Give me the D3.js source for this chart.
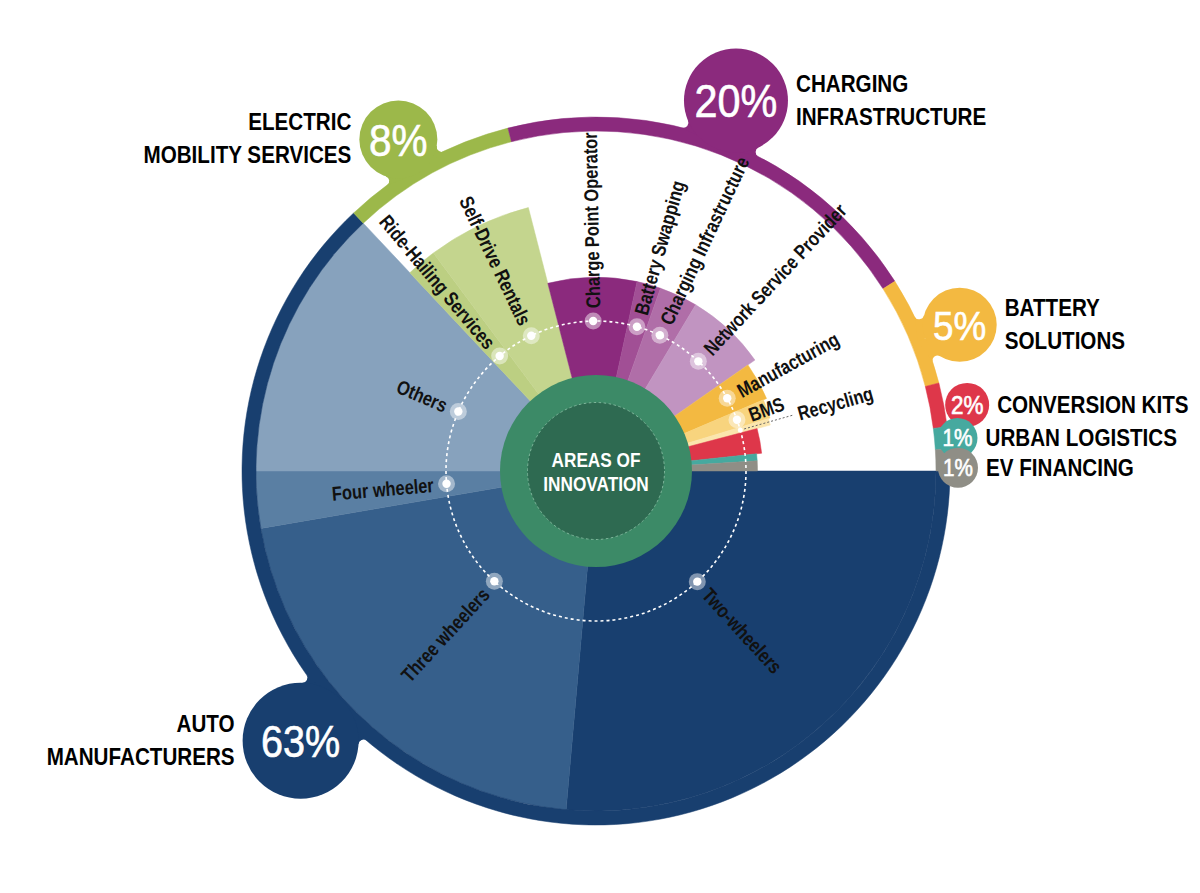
<!DOCTYPE html>
<html>
<head>
<meta charset="utf-8">
<script src="https://cdn.jsdelivr.net/npm/d3@7"></script>
<style>
  html, body { margin: 0; padding: 0; background: #fff; }
  svg { display: block; font-family: "Liberation Sans", Arial, sans-serif; }
</style>
</head>
<body>
<svg id="chart" width="1200" height="893"></svg>
<script>
// ---- outer ring: share of startups per area (%)
var groupNames = ["Auto Manufacturers", "Electric Mobility Services", "Charging Infrastructure",
	"Battery Solutions", "Conversion Kits", "Urban Logistics", "EV Financing"];
var groupLines = [["AUTO", "MANUFACTURERS"], ["ELECTRIC", "MOBILITY SERVICES"], ["CHARGING", "INFRASTRUCTURE"],
	["BATTERY", "SOLUTIONS"], ["CONVERSION KITS"], ["URBAN LOGISTICS"], ["EV FINANCING"]];
var groupShares = [63, 8, 20, 5, 2, 1, 1];

// ---- inner wedges: sub-areas (share of whole, %) and how far they reach (0-100)
var segmentNames = ["Two-wheelers", "Three wheelers", "Four wheeler", "Others",
	"Ride-Hailing Services", "Self-Drive Rentals",
	"Charge Point Operator", "Battery Swapping", "Charging Infrastructure", "Network Service Provider",
	"Manufacturing", "BMS", "Recycling",
	"Conversion Kits", "Urban Logistics", "EV Financing"];
var segmentGroup = [0, 0, 0, 0, 1, 1, 2, 2, 2, 2, 3, 3, 3, 4, 5, 6];
var segmentShares = [26.4, 20.9, 2.7, 13.0, 1.8, 6.2, 7.4, 2.0, 3.2, 6.7, 3.3, 1.7, 0.6, 2.4, 0.7, 1.0];
var segmentReach = [100, 100, 100, 100, 80, 80, 57, 57, 57, 57, 54.5, 53.5, 53, 49, 47.5, 47.5];
var unlabelled = ["Conversion Kits", "Urban Logistics", "EV Financing"];

// ---- styling
var groupColors = ["#183f6f", "#9cb84a", "#8b2a7d", "#f3b941", "#de374a", "#46a99f", "#8f8e86"];
var segmentColors = ["#183f6f", "#365f8b", "#5a7fa3", "#87a2bd",
	"#bccf82", "#c4d58e",
	"#8b2a7d", "#a14f95", "#b06ea8", "#c194c1",
	"#f3b941", "#f8d47e", "#fbe5ad",
	"#de374a", "#46a99f", "#8f8e86"];
var badgeLayout = [
	{ r: 58, dist: 400, turn: 24.2, font: 44 },
	{ r: 39, dist: 386, turn: -2.0, font: 45 },
	{ r: 52, dist: 396, turn: -0.9, font: 46 },
	{ r: 37, dist: 392, turn: 1.5, font: 41 },
	{ r: 22, dist: 377, turn: 0.7, font: 25 },
	{ r: 20, dist: 363, turn: 0.2, font: 23 },
	{ r: 20, dist: 362, turn: 1.3, font: 23 }
];

var cx = 596, cy = 471,
	ringInner = 340,
	ringOuter = 354,
	dotRadius = 150,
	hubRadius = 96,
	hubInner = 68.5,
	labelStart = 163,
	fillet = 5,
	narrow = 0.82;   // condensed look from a regular face

var svg = d3.select("#chart");
var g = svg.append("g").attr("transform", "translate(" + cx + "," + cy + ")");

var reach = d3.scaleLinear().domain([0, 100]).range([0, ringInner]);

var pie = d3.pie()
	.sort(null)
	.startAngle(Math.PI / 2)
	.endAngle(Math.PI / 2 + 2 * Math.PI)
	.value(function(d) { return d.share; });

var segments = segmentNames.map(function(name, i) {
	return { name: name, share: segmentShares[i], reach: segmentReach[i], color: segmentColors[i], group: segmentGroup[i] };
});
var groups = groupNames.map(function(name, i) {
	return { name: name, share: groupShares[i], color: groupColors[i], lines: groupLines[i], layout: badgeLayout[i] };
});

var segArcs = pie(segments);
var groupArcs = pie(groups);

var wedge = d3.arc()
	.innerRadius(0)
	.outerRadius(function(d) { return reach(d.data.reach); });

g.selectAll(".wedge")
	.data(segArcs)
	.enter().append("path")
	.attr("class", "wedge")
	.attr("fill", function(d) { return d.data.color; })
	.attr("stroke", function(d) { return d.data.color; })
	.attr("stroke-width", 0.5)
	.attr("d", wedge);

var ring = d3.arc().innerRadius(ringInner).outerRadius(ringOuter);

g.selectAll(".ring")
	.data(groupArcs)
	.enter().append("path")
	.attr("class", "ring")
	.attr("fill", function(d) { return d.data.color; })
	.attr("stroke", function(d) { return d.data.color; })
	.attr("stroke-width", 0.5)
	.attr("d", ring);

// dashed guide circle through the label dots
g.append("circle")
	.attr("r", dotRadius)
	.attr("fill", "none")
	.attr("stroke", "#fff")
	.attr("stroke-width", 1.6)
	.attr("stroke-dasharray", "3,3");

function mid(d) { return (d.startAngle + d.endAngle) / 2; }
function polar(a, r) { return [Math.sin(a) * r, -Math.cos(a) * r]; }
function flatText(x, y, sx) {
	return g.append("text").attr("transform", "translate(" + x + "," + y + ") scale(" + sx + ",1)");
}

var labelled = segArcs.filter(function(d) { return unlabelled.indexOf(d.data.name) < 0; });

labelled.forEach(function(d) {
	var a = mid(d),
		deg = a * 180 / Math.PI,
		p = polar(a, dotRadius),
		leader = d.data.name === "Recycling",
		start = leader ? 210 : labelStart;

	if (leader) {
		var p1 = polar(a, dotRadius + 4), p2 = polar(a, start - 4);
		g.append("line")
			.attr("x1", p1[0]).attr("y1", p1[1])
			.attr("x2", p2[0]).attr("y2", p2[1])
			.attr("stroke", "#666")
			.attr("stroke-width", 1)
			.attr("stroke-dasharray", "2,2");
		g.append("circle").attr("cx", p[0]).attr("cy", p[1]).attr("r", 2.5).attr("fill", "#fff");
	} else {
		g.append("circle").attr("cx", p[0]).attr("cy", p[1]).attr("r", 8.5)
			.attr("fill", "#fff").attr("fill-opacity", 0.45);
		g.append("circle").attr("cx", p[0]).attr("cy", p[1]).attr("r", 4.2).attr("fill", "#fff");
	}

	var rightSide = Math.sin(a) >= -0.05;
	g.append("text")
		.attr("transform", rightSide
			? "rotate(" + (deg - 90) + ") translate(" + start + ",0) scale(" + narrow + ",1)"
			: "rotate(" + (deg + 90) + ") translate(" + (-start) + ",0) scale(" + narrow + ",1)")
		.attr("text-anchor", rightSide ? "start" : "end")
		.attr("dy", "0.36em")
		.attr("font-size", 20)
		.attr("font-weight", "bold")
		.attr("fill", "#111")
		.text(d.data.name);
});

// hub
g.append("circle").attr("r", hubRadius).attr("fill", "#3c8a67");
g.append("circle").attr("r", hubInner).attr("fill", "#2e6a51")
	.attr("stroke", "#7fb69b").attr("stroke-width", 1).attr("stroke-dasharray", "2.5,2.5");
flatText(0, -4, narrow).attr("text-anchor", "middle")
	.attr("font-size", 21).attr("font-weight", "bold").attr("fill", "#fff").text("AREAS OF");
flatText(0, 20, narrow).attr("text-anchor", "middle")
	.attr("font-size", 21).attr("font-weight", "bold").attr("fill", "#fff").text("INNOVATION");

// concave necks joining a badge to the ring
function necks(b, R, color) {
	var D = Math.hypot(b[0], b[1]),
		r1 = ringOuter + fillet,
		r2 = R + fillet,
		x = (r1 * r1 - r2 * r2 + D * D) / (2 * D),
		h2 = r1 * r1 - x * x;
	if (h2 <= 0) return;
	var h = Math.sqrt(h2),
		ux = b[0] / D, uy = b[1] / D,
		ring0 = [ux * (ringOuter - 7), uy * (ringOuter - 7)];
	[-1, 1].forEach(function(s) {
		var c = [ux * x - s * uy * h, uy * x + s * ux * h],
			cl = Math.hypot(c[0], c[1]),
			t1 = [c[0] * ringOuter / cl, c[1] * ringOuter / cl],
			t2 = [b[0] + (c[0] - b[0]) * R / r2, b[1] + (c[1] - b[1]) * R / r2],
			a1 = Math.atan2(t1[1] - c[1], t1[0] - c[0]),
			a2 = Math.atan2(t2[1] - c[1], t2[0] - c[0]),
			da = a2 - a1;
		while (da > Math.PI) da -= 2 * Math.PI;
		while (da < -Math.PI) da += 2 * Math.PI;
		var path = d3.path();
		path.moveTo(t1[0], t1[1]);
		path.arc(c[0], c[1], fillet, a1, a2, da < 0);
		path.lineTo(b[0], b[1]);
		path.lineTo(ring0[0], ring0[1]);
		path.closePath();
		g.append("path").attr("d", path.toString()).attr("fill", color);
	});
}

// badges with percentages and area names
groupArcs.forEach(function(d) {
	var L = d.data.layout,
		a = mid(d) + L.turn * Math.PI / 180,
		p = polar(a, L.dist);

	if (L.r >= 30) necks(p, L.r, d.data.color);
	g.append("circle").attr("cx", p[0]).attr("cy", p[1]).attr("r", L.r).attr("fill", d.data.color);
	flatText(p[0], p[1], 0.9)
		.attr("dy", "0.36em")
		.attr("text-anchor", "middle")
		.attr("font-size", L.font)
		.attr("fill", "#fff")
		.attr("stroke", "#fff")
		.attr("stroke-width", 0.6)
		.text(d.data.share + "%");

	var left = p[0] < 0,
		tx = left ? p[0] - L.r - 8 : p[0] + L.r + 8,
		lines = d.data.lines,
		base = lines.length === 1 ? [8] : [-9, 24];

	lines.forEach(function(line, i) {
		flatText(tx, p[1] + base[i], 0.86)
			.attr("text-anchor", left ? "end" : "start")
			.attr("font-size", 24)
			.attr("font-weight", "bold")
			.attr("fill", "#000")
			.text(line);
	});
});
</script>
</body>
</html>
